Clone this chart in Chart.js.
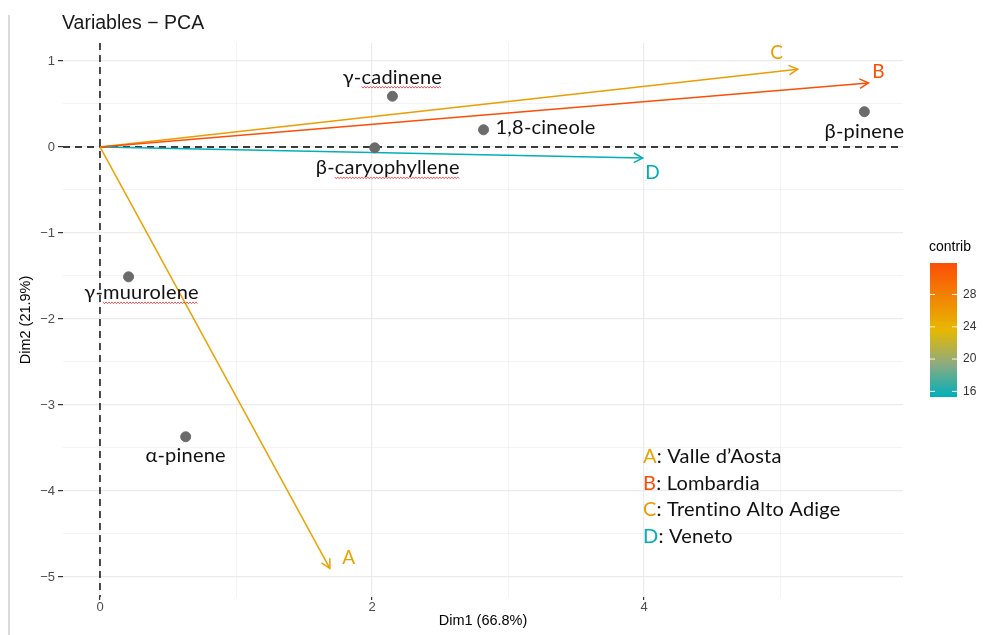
<!DOCTYPE html>
<html>
<head>
<meta charset="utf-8">
<title>Variables - PCA</title>
<script src="https://cdn.jsdelivr.net/npm/chart.js"></script>
<style>
  html, body { margin: 0; padding: 0; background: #fff; }
</style>
</head>
<body>
<canvas id="pca" width="983" height="635"></canvas>
<script>
// variables (supplementary points)
const varNames = ['γ-cadinene', '1,8-cineole', 'β-caryophyllene', 'β-pinene', 'γ-muurolene', 'α-pinene'];
const varDim1 = [2.15, 2.82, 2.02, 5.62, 0.21, 0.63];
const varDim2 = [0.59, 0.20, -0.01, 0.41, -1.51, -3.37];

// regions (arrows)
const regionKeys = ['A', 'B', 'C', 'D'];
const regionNames = ['Valle d’Aosta', 'Lombardia', 'Trentino Alto Adige', 'Veneto'];
const regionDim1 = [1.69, 5.65, 5.13, 3.99];
const regionDim2 = [-4.90, 0.745, 0.905, -0.128];
const regionContrib = [25.3, 31.9, 25.8, 15.3];

const contribTicks = [16, 20, 24, 28];
const gradCols = ['#00AFBB', '#E7B800', '#FC4E07'];

// label placement (pixel offsets from the mark)
const varLabelOff = [[0, -19], [12, -2, 'left'], [13, 20], [0, 20], [13, 16], [0, 19]];
const regionLabelOff = [[19, -10], [10, -11], [-21, -16], [10, 15]];

const cMin = Math.min(...regionContrib), cMax = Math.max(...regionContrib);

function hex2rgb(h) { return [1, 3, 5].map((i) => parseInt(h.slice(i, i + 2), 16)); }
function contribColor(v) {
  let t = (v - cMin) / (cMax - cMin) * 2;
  let a = gradCols[0], b = gradCols[1];
  if (t > 1) { a = gradCols[1]; b = gradCols[2]; t -= 1; }
  const ca = hex2rgb(a), cb = hex2rgb(b);
  const c = ca.map((x, i) => Math.round(x + (cb[i] - x) * t));
  return `rgb(${c[0]},${c[1]},${c[2]})`;
}
const regionColors = regionContrib.map(contribColor);

const minus = (v) => (v < 0 ? '\u2212' + Math.abs(v) : String(v));

function squiggle(ctx, x1, x2, y) {
  ctx.save();
  ctx.strokeStyle = '#e8393b'; ctx.lineWidth = 0.8;
  ctx.beginPath();
  for (let x = x1, i = 0; x <= x2; x += 1.5, i++) {
    const yy = y + (i % 2 ? 1 : -1) * 0.9;
    if (i === 0) ctx.moveTo(x, yy); else ctx.lineTo(x, yy);
  }
  ctx.stroke();
  ctx.restore();
}

const pcaDecor = {
  id: 'pcaDecor',
  beforeDatasetsDraw(chart) {
    const { ctx, chartArea: a, scales: { x, y } } = chart;
    const x0 = x.getPixelForValue(0), y0 = y.getPixelForValue(0);
    ctx.save();
    ctx.strokeStyle = '#000'; ctx.lineWidth = 1.4; ctx.setLineDash([7, 5]);
    ctx.beginPath();
    ctx.moveTo(a.left, y0); ctx.lineTo(a.right, y0);
    ctx.moveTo(x0, a.top); ctx.lineTo(x0, a.bottom);
    ctx.stroke();
    ctx.restore();
  },
  afterDatasetsDraw(chart) {
    const { ctx, scales: { x, y } } = chart;
    const x0 = x.getPixelForValue(0), y0 = y.getPixelForValue(0);
    ctx.save();
    ctx.letterSpacing = '0.2px'; // keeps "ti" from turning into a ligature

    // arrow heads + arrow labels
    regionKeys.forEach((k, i) => {
      const px = x.getPixelForValue(regionDim1[i]), py = y.getPixelForValue(regionDim2[i]);
      const ang = Math.atan2(py - y0, px - x0);
      ctx.strokeStyle = regionColors[i]; ctx.lineWidth = 1.5;
      ctx.beginPath();
      ctx.moveTo(px - 10 * Math.cos(ang - 0.5), py - 10 * Math.sin(ang - 0.5));
      ctx.lineTo(px, py);
      ctx.lineTo(px - 10 * Math.cos(ang + 0.5), py - 10 * Math.sin(ang + 0.5));
      ctx.stroke();
      ctx.fillStyle = regionColors[i];
      ctx.font = '19px Lato';
      ctx.textAlign = 'center'; ctx.textBaseline = 'middle';
      ctx.fillText(k, px + regionLabelOff[i][0], py + regionLabelOff[i][1]);
    });

    // variable labels
    ctx.font = '20px Lato';
    ctx.fillStyle = '#111';
    varNames.forEach((n, i) => {
      const px = x.getPixelForValue(varDim1[i]), py = y.getPixelForValue(varDim2[i]);
      const o = varLabelOff[i];
      ctx.textAlign = o[2] || 'center'; ctx.textBaseline = 'middle';
      const tx = px + o[0], ty = py + o[1];
      ctx.fillText(n, tx, ty);
      if (/cadinene|caryophyllene|muurolene/.test(n)) {
        const w = ctx.measureText(n).width, pre = ctx.measureText(n.slice(0, 2)).width;
        const left = (o[2] === 'left') ? tx : tx - w / 2;
        squiggle(ctx, left + pre, left + w, ty + 10);
      }
    });

    // text legend A..D
    ctx.font = '20px Lato';
    ctx.textAlign = 'left'; ctx.textBaseline = 'middle';
    const lx = x.getPixelForValue(4) - 1;
    let ly = y.getPixelForValue(-3.6);
    regionKeys.forEach((k, i) => {
      ctx.fillStyle = regionColors[i];
      ctx.fillText(k, lx, ly);
      const kw = ctx.measureText(k).width;
      ctx.fillStyle = '#111';
      ctx.fillText(': ' + regionNames[i], lx + kw, ly);
      ly += 26.7;
    });
    ctx.letterSpacing = '0px';

    // colour bar legend
    const bx = 930, bw = 27, bTop = 263, bBot = 397;
    const g = ctx.createLinearGradient(0, bBot, 0, bTop);
    g.addColorStop(0, gradCols[0]);
    g.addColorStop(0.25, '#8fab7e');
    g.addColorStop(0.5, gradCols[1]);
    g.addColorStop(1, gradCols[2]);
    ctx.fillStyle = g;
    ctx.fillRect(bx, bTop, bw, bBot - bTop);
    ctx.font = '14px "Liberation Sans"';
    ctx.fillStyle = '#000'; ctx.textAlign = 'left'; ctx.textBaseline = 'middle';
    ctx.fillText('contrib', 929, 247);
    ctx.font = '12px "Liberation Sans"';
    ctx.fillStyle = '#333';
    contribTicks.forEach((t) => {
      const ty = bBot - (t - cMin) / (cMax - cMin) * (bBot - bTop);
      ctx.strokeStyle = 'rgba(255,255,255,0.9)'; ctx.lineWidth = 1;
      ctx.beginPath();
      ctx.moveTo(bx, ty); ctx.lineTo(bx + 5, ty);
      ctx.moveTo(bx + bw - 5, ty); ctx.lineTo(bx + bw, ty);
      ctx.stroke();
      ctx.fillText(String(t), 963, ty);
    });

    // title + page edge
    ctx.font = '19.5px "Liberation Sans"';
    ctx.fillStyle = '#1a1a1a'; ctx.textAlign = 'left'; ctx.textBaseline = 'middle';
    ctx.fillText('Variables \u2212 PCA', 62, 24);
    ctx.strokeStyle = '#cfcfcf'; ctx.lineWidth = 1.5;
    ctx.beginPath(); ctx.moveTo(9, 15); ctx.lineTo(9, 635); ctx.stroke();
    ctx.restore();
  }
};

const datasets = [{
  label: 'variables',
  data: varNames.map((n, i) => ({ x: varDim1[i], y: varDim2[i] })),
  backgroundColor: '#6b6b6b',
  borderColor: '#6b6b6b',
  pointRadius: 5,
  showLine: false
}];
regionKeys.forEach((k, i) => {
  datasets.push({
    label: k,
    data: [{ x: 0, y: 0 }, { x: regionDim1[i], y: regionDim2[i] }],
    borderColor: regionColors[i],
    borderWidth: 1.5,
    pointRadius: 0,
    showLine: true
  });
});

const isMajor = (v, step) => Math.abs(v / step - Math.round(v / step)) < 1e-6;

new Chart(document.getElementById('pca'), {
  type: 'scatter',
  data: { datasets },
  options: {
    responsive: false,
    animation: false,
    layout: { padding: { top: 43, left: 10, right: 80, bottom: 0 } },
    plugins: { legend: { display: false }, tooltip: { enabled: false } },
    scales: {
      x: {
        type: 'linear', min: -0.272, max: 5.904,
        afterFit: (s) => { s.height = 38; },
        border: { display: false },
        grid: {
          color: '#ebebeb',
          lineWidth: (c) => (c.tick && isMajor(c.tick.value, 2) ? 1.2 : 0.6),
          tickColor: (c) => (c.tick && isMajor(c.tick.value, 2) ? '#333' : 'rgba(0,0,0,0)'),
          tickLength: 3
        },
        ticks: {
          stepSize: 1, includeBounds: false, padding: 0, maxRotation: 0,
          color: '#4d4d4d', font: { family: 'Liberation Sans', size: 13 },
          callback: (v) => (isMajor(v, 2) ? minus(v) : '')
        },
        title: { display: true, text: 'Dim1 (66.8%)', color: '#000',
          font: { family: 'Liberation Sans', size: 14.5 }, padding: { top: 0, bottom: 5 } }
      },
      y: {
        type: 'linear', min: -5.233, max: 1.209,
        afterFit: (s) => { s.width = 53; },
        border: { display: false },
        grid: {
          color: '#ebebeb',
          lineWidth: (c) => (c.tick && isMajor(c.tick.value, 1) ? 1.2 : 0.6),
          tickColor: (c) => (c.tick && isMajor(c.tick.value, 1) ? '#333' : 'rgba(0,0,0,0)'),
          tickLength: 5
        },
        ticks: {
          stepSize: 0.5, includeBounds: false, padding: 3,
          color: '#4d4d4d', font: { family: 'Liberation Sans', size: 13 },
          callback: (v) => (isMajor(v, 1) ? minus(v) : '')
        },
        title: { display: true, text: 'Dim2 (21.9%)', color: '#000',
          font: { family: 'Liberation Sans', size: 14.5 }, padding: { top: 7, bottom: 0 } }
      }
    }
  },
  plugins: [pcaDecor]
});
</script>
</body>
</html>
